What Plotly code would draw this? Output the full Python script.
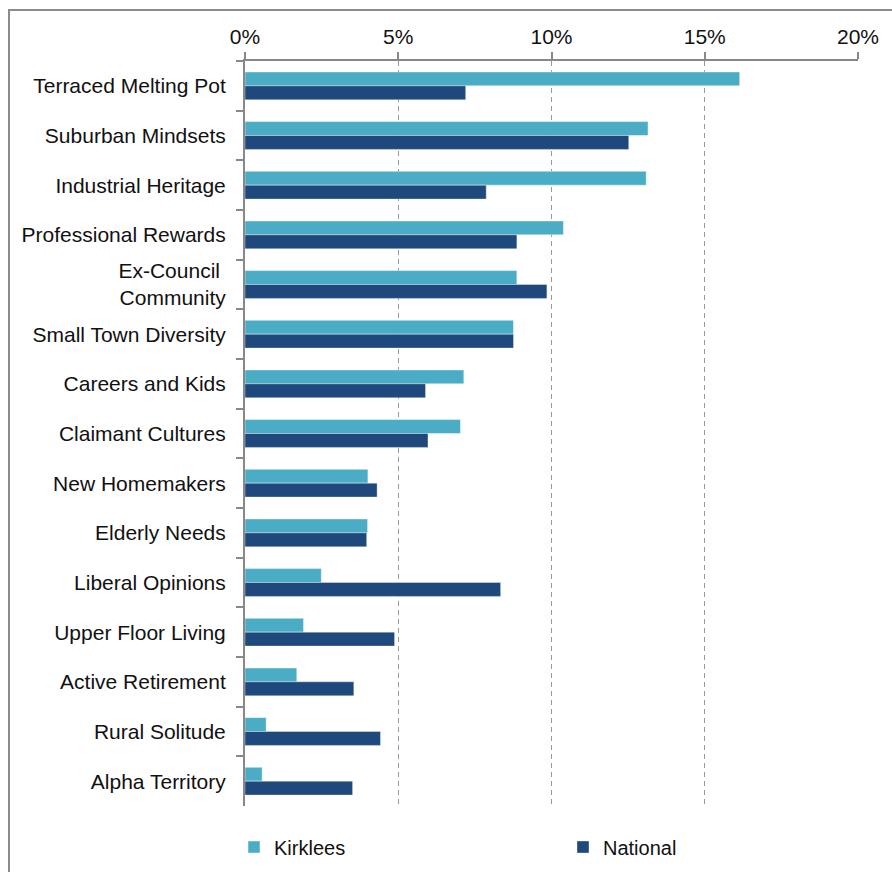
import plotly.graph_objects as go

# Mosaic group shares: Kirklees vs national (%)
groups = [
    "Terraced Melting Pot", "Suburban Mindsets", "Industrial Heritage",
    "Professional Rewards", "Ex-Council <br>Community", "Small Town Diversity",
    "Careers and Kids", "Claimant Cultures", "New Homemakers", "Elderly Needs",
    "Liberal Opinions", "Upper Floor Living", "Active Retirement",
    "Rural Solitude", "Alpha Territory",
]
kirklees = [16.14, 13.15, 13.09, 10.39, 8.87, 8.76, 7.14, 7.03, 4.01, 4.00,
            2.49, 1.91, 1.69, 0.69, 0.56]
national = [7.20, 12.52, 7.87, 8.87, 9.85, 8.76, 5.89, 5.97, 4.31, 3.97,
            8.34, 4.88, 3.55, 4.42, 3.51]
tick_vals = [0, 5, 10, 15, 20]
tick_text = ["0%", "5%", "10%", "15%", "20%"]

W, H = 892, 872
L, R, T, B = 245, 34, 61, 66
pw, ph = W - L - R, H - T - B

fig = go.Figure()
fig.add_trace(go.Bar(
    y=groups, x=kirklees, name="Kirklees", orientation="h",
    marker=dict(color="#4BACC6", line=dict(color="rgba(255,255,255,0.45)", width=1)),
))
fig.add_trace(go.Bar(
    y=groups, x=national, name="National", orientation="h",
    marker=dict(color="#1F497D", line=dict(color="rgba(255,255,255,0.35)", width=1)),
))

def px_x(px):
    return (px - L) / pw

def px_y(py):
    return (H - B - py) / ph

# outer chart border
fig.add_shape(type="rect", xref="paper", yref="paper",
              x0=px_x(9), x1=px_x(W + 5), y0=px_y(H + 5), y1=px_y(10),
              line=dict(color="#8c8c8c", width=2), fillcolor="rgba(0,0,0,0)",
              layer="below")

fig.update_layout(
    width=W, height=H,
    margin=dict(l=L, r=R, t=T, b=B, autoexpand=False),
    paper_bgcolor="white", plot_bgcolor="white",
    barmode="group", bargap=0.44, bargroupgap=0,
    font=dict(family="Arial, Liberation Sans, sans-serif", size=21, color="#111"),
    xaxis=dict(
        side="top", range=[0, 20], tickvals=tick_vals, ticktext=tick_text,
        showline=True, linecolor="#888", linewidth=2,
        ticks="outside", ticklen=7, tickcolor="#888", tickwidth=1.5,
        showgrid=True, gridcolor="#999", griddash="5px,4px", gridwidth=1,
        zeroline=False, tickfont=dict(size=21, color="#111"),
    ),
    yaxis=dict(
        autorange="reversed", showline=True, linecolor="#888", linewidth=2,
        ticks="outside", ticklen=7, tickcolor="#888", tickwidth=1.5,
        tickson="boundaries", showgrid=False, zeroline=False,
        ticklabelstandoff=13, tickfont=dict(size=21, color="#111"),
    ),
    legend=dict(
        orientation="h", x=px_x(234), xanchor="left",
        y=px_y(847), yanchor="middle",
        entrywidth=284, entrywidthmode="pixels",
        font=dict(family="Arial, Liberation Sans, sans-serif",
                  size=20, color="#111"),
        bgcolor="rgba(0,0,0,0)", traceorder="normal",
    ),
    showlegend=True,
)

fig.write_html("out.html")
